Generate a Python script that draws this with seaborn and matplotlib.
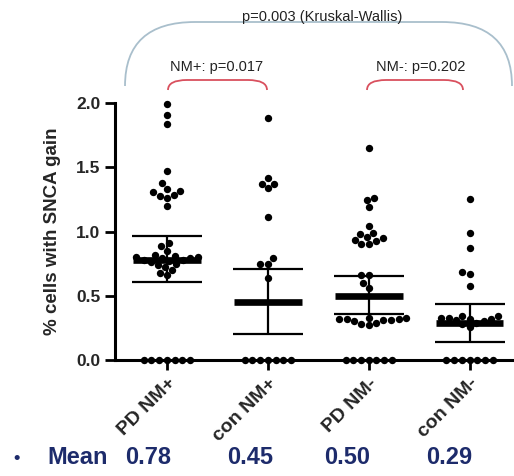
import numpy as np
import pandas as pd
import matplotlib
matplotlib.use("Agg")
import matplotlib.pyplot as plt
from matplotlib.path import Path
from matplotlib.patches import PathPatch
import seaborn as sns

# values
groups = ["PD NM+", "con NM+", "PD NM-", "con NM-"]
pd_nm_pos = [1.99, 1.91, 1.84, 1.47, 1.375, 1.33, 1.315, 1.305, 1.285, 1.28, 1.26, 1.20,
             0.91, 0.89, 0.85, 0.82, 0.81, 0.80, 0.80, 0.79, 0.79, 0.78, 0.78, 0.77,
             0.76, 0.75, 0.74, 0.72, 0.70, 0.68, 0.66] + [0.0] * 7
con_nm_pos = [1.88, 1.42, 1.37, 1.37, 1.335, 1.115, 0.79, 0.75, 0.745, 0.636] + [0.0] * 7
pd_nm_neg = [1.65, 1.26, 1.245, 1.19, 1.045, 0.985, 0.98, 0.955, 0.947, 0.935, 0.926, 0.90,
             0.90, 0.66, 0.66, 0.60, 0.563, 0.33, 0.33, 0.32, 0.32, 0.32, 0.31, 0.31,
             0.30, 0.29, 0.28, 0.27] + [0.0] * 7
con_nm_neg = [1.253, 0.986, 0.874, 0.687, 0.667, 0.576, 0.34, 0.34, 0.33, 0.33, 0.32, 0.32,
              0.31, 0.30, 0.29, 0.28, 0.26] + [0.0] * 7

means = [0.78, 0.45, 0.50, 0.29]
err_low = [0.61, 0.20, 0.36, 0.14]
err_high = [0.965, 0.71, 0.655, 0.435]

yticks = [0.0, 0.5, 1.0, 1.5, 2.0]
ylabel = "% cells with SNCA gain"
kw_text = "p=0.003 (Kruskal-Wallis)"
pair_texts = ["NM+: p=0.017", "NM-: p=0.202"]

df = pd.DataFrame({
    "group": np.repeat(groups, [len(pd_nm_pos), len(con_nm_pos), len(pd_nm_neg), len(con_nm_neg)]),
    "value": pd_nm_pos + con_nm_pos + pd_nm_neg + con_nm_neg,
})

sns.set_style("ticks")
plt.rcParams["font.family"] = ["Liberation Sans", "DejaVu Sans"]

W, H = 514, 476
fig = plt.figure(figsize=(W / 100, H / 100), dpi=100)
ax = fig.add_axes([115 / W, 1 - 360 / H, 1 - 115 / W, (360 - 103) / H])
ax.set_ylim(0, 2.0)

sns.swarmplot(data=df, x="group", y="value", order=groups, color="black", size=5.3, ax=ax, zorder=5)
for coll in ax.collections:
    coll.set_clip_on(False)

pos = np.arange(len(groups))
m = np.array(means)
ax.errorbar(pos, m, yerr=[m - np.array(err_low), np.array(err_high) - m], fmt="none",
            ecolor="black", elinewidth=1.6, capsize=25, capthick=1.6, zorder=6)
ax.hlines(m, pos - 0.335, pos + 0.335, color="black", lw=4.8, zorder=7)

ax.set_xlim(-0.515, 3.44)
ax.set_ylim(0, 2.0)
ax.set_yticks(yticks)
ax.set_yticklabels([f"{t:.1f}" for t in yticks], fontsize=12.5, fontweight="bold")
ax.set_xticks(pos)
ax.set_xticklabels(groups, fontsize=14, fontweight="bold", rotation=45, ha="right",
                   rotation_mode="anchor")
ax.tick_params(axis="both", length=7.5, width=2, color="black", pad=3)
ax.set_xlabel("")
ax.set_ylabel(ylabel, fontsize=13.5, fontweight="bold")
ax.yaxis.set_label_coords(-0.135, 0.5)
sns.despine(ax=ax)
for s in ["left", "bottom"]:
    ax.spines[s].set_linewidth(2.2)
    ax.spines[s].set_color("black")


def px(x, y):
    return (x / W, 1 - y / H)


def bracket(x0, x1, ybot, ytop, rx, color, lw):
    verts = [px(x0, ybot), px(x0, ytop), px(x0 + rx, ytop), px(x1 - rx, ytop),
             px(x1, ytop), px(x1, ybot)]
    codes = [Path.MOVETO, Path.CURVE3, Path.CURVE3, Path.LINETO, Path.CURVE3, Path.CURVE3]
    fig.add_artist(PathPatch(Path(verts, codes), fill=False, edgecolor=color, lw=lw,
                             transform=fig.transFigure))


bracket(125, 512, 86, 22, 70, "#a9bfcc", 1.3)
bracket(168, 267, 90, 80, 19, "#d9505e", 1.3)
bracket(367, 463, 90, 80, 19, "#d9505e", 1.3)

fig.text(*px(322, 17), kw_text, fontsize=10.5, ha="center", va="center", color="#222222")
fig.text(*px(217, 67), pair_texts[0], fontsize=10.5, ha="center", va="center", color="#222222")
fig.text(*px(421, 67), pair_texts[1], fontsize=10.5, ha="center", va="center", color="#222222")

navy = "#1d2b6b"
fig.text(*px(17, 458), "\u2022", fontsize=13, ha="center", va="center", color=navy, fontweight="bold")
fig.text(*px(47, 458), "Mean", fontsize=17, ha="left", va="center", color=navy, fontweight="bold")
for xc, v in zip([148, 250, 347, 449], means):
    fig.text(*px(xc, 458), f"{v:.2f}", fontsize=17, ha="center", va="center", color=navy,
             fontweight="bold")

fig.savefig("out.png", dpi=100)
